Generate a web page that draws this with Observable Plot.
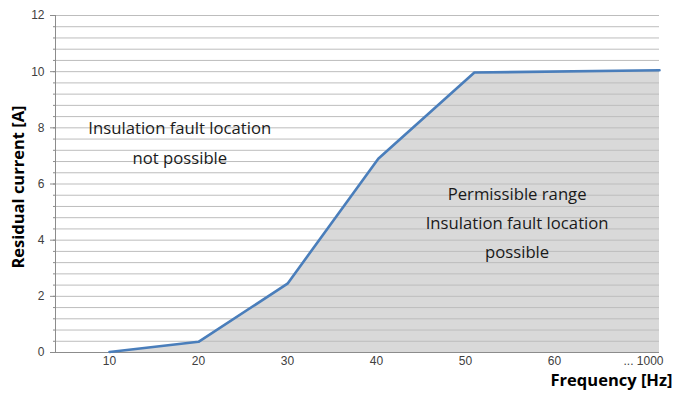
<!DOCTYPE html>
<html>
<head>
<meta charset="utf-8">
<script src="https://cdn.jsdelivr.net/npm/d3@7"></script>
<script src="https://cdn.jsdelivr.net/npm/@observablehq/plot@0.6"></script>
<style>
  html, body { margin: 0; padding: 0; background: #fff; }
  g[aria-label$="tick label"] { font-size: 12px; }
</style>
</head>
<body>
<script>
// ---- data ----
const freqTickPos = [10, 20, 30, 40, 50, 60, 70];
const freqTickLabels = ["10", "20", "30", "40", "50", "60", "... 1000"];
const curveX = [10, 20, 30, 40.2, 51, 71.8];
const curveY = [0.02, 0.38, 2.45, 6.9, 9.97, 10.05];
const yMajor = [0, 2, 4, 6, 8, 10, 12];
const yMinor = [0.4, 0.8, 1.2, 1.6, 2, 2.4, 2.8, 3.2, 3.6, 4, 4.4, 4.8, 5.2, 5.6, 6,
                6.4, 6.8, 7.2, 7.6, 8, 8.4, 8.8, 9.2, 9.6, 10, 10.4, 10.8, 11.2, 11.6, 12];
const xDomain = [3.93, 71.8];
const annotationText = ["Insulation fault location\nnot possible",
                        "Permissible range\nInsulation fault location\npossible"];
const annotationX = [17.9, 55.8];
const annotationY = [7.58, 4.74];
const xTitle = "Frequency [Hz]";
const yTitle = "Residual current [A]";

const curve = curveX.map((x, i) => ({x, y: curveY[i]}));
const notes = annotationText.map((t, i) => ({t, x: annotationX[i], y: annotationY[i]}));
const tickLabel = new Map(freqTickPos.map((p, i) => [p, freqTickLabels[i]]));

const chart = Plot.plot({
  width: 676,
  height: 396,
  marginLeft: 55,
  marginRight: 17,
  marginTop: 15,
  marginBottom: 44,
  style: {fontFamily: "'Liberation Sans', Arial, sans-serif", fontSize: "12px", color: "#404040", background: "#fff"},
  x: {domain: xDomain},
  y: {domain: [0, 12]},
  marks: [
    Plot.areaY(curve, {x: "x", y: "y", fill: "#d9d9d9"}),
    Plot.ruleY(yMinor, {stroke: "#bdbdbd", strokeWidth: 1}),
    Plot.ruleY([0], {stroke: "#8c8c8c", strokeWidth: 1}),
    Plot.ruleX([xDomain[0]], {y1: 0, y2: 12, stroke: "#8c8c8c", strokeWidth: 1}),
    Plot.lineY(curve, {x: "x", y: "y", stroke: "#4a7ebb", strokeWidth: 2.6, strokeLinejoin: "miter"}),
    Plot.axisY(yMinor, {tickSize: 2, tickFormat: () => "", stroke: "#8c8c8c", label: null}),
    Plot.axisY(yMajor, {tickSize: 5, tickPadding: 6, stroke: "#8c8c8c", fill: "#404040", fontSize: 12, label: null}),
    Plot.axisX(freqTickPos, {tickSize: 0, tickPadding: 4, tickFormat: d => tickLabel.get(d), fill: "#404040", fontSize: 12, label: null}),
    Plot.text(notes, {x: "x", y: "y", text: "t", fontFamily: "'Open Sans', sans-serif", fontSize: 16.7, lineHeight: 1.75, fill: "#1a1a1a"}),
    Plot.text([xTitle], {frameAnchor: "bottom-right", dx: 13, dy: 33, textAnchor: "end", fontFamily: "'Open Sans', sans-serif", fontWeight: "bold", fontSize: 16.5, fill: "#000"}),
    Plot.text([yTitle], {frameAnchor: "left", dx: -37, dy: 3, rotate: -90, textAnchor: "middle", fontFamily: "'Open Sans', sans-serif", fontWeight: "bold", fontSize: 16.5, fill: "#000"})
  ]
});
document.body.appendChild(chart);
</script>
</body>
</html>
